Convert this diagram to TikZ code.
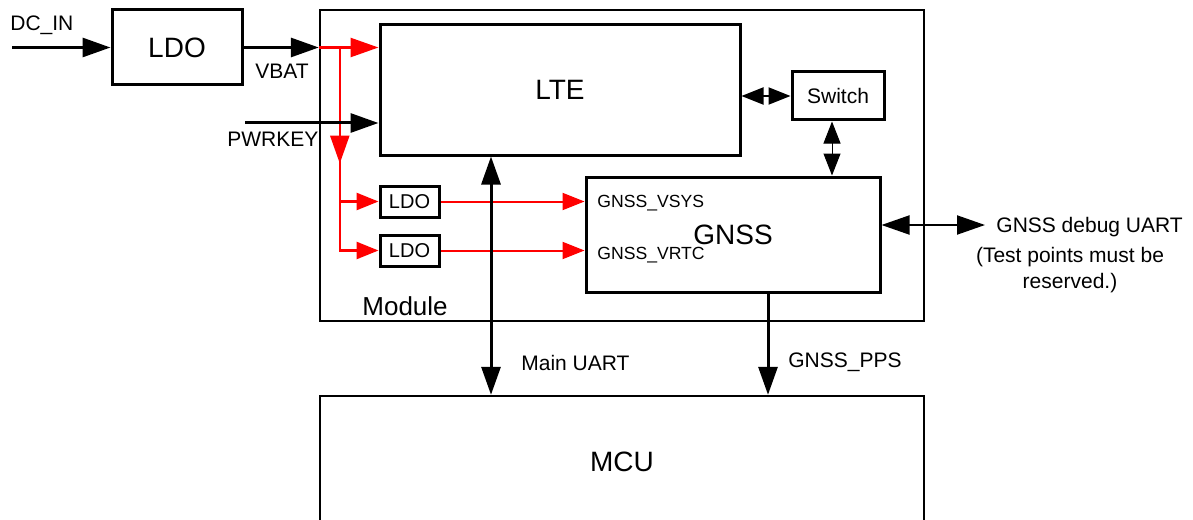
\documentclass[tikz,border=0pt]{standalone}
\usepackage{fontspec}
\setmainfont{Liberation Sans}
\usetikzlibrary{arrows.meta, positioning, calc}

\begin{document}
\begin{tikzpicture}[
  x=0.5pt, y=-0.5pt, >={Triangle[length=14pt,width=9.5pt]},
  box/.style={draw, line width=1.5pt, inner sep=0pt, font=\fontsize{14}{16}\selectfont},
  frame/.style={draw, line width=1.2pt, inner sep=0pt, font=\fontsize{14}{16}\selectfont},
  sbox/.style={draw, line width=1.5pt, inner sep=0pt, minimum width=29.5pt,
               minimum height=15.5pt, font=\fontsize{10}{12}\selectfont},
  sig/.style={line width=1.5pt},
  pwr/.style={red, line width=1.3pt},
  small/.style={>={Triangle[length=11pt,width=8.5pt]}},
  lbl/.style={font=\fontsize{10.5}{13}\selectfont, inner sep=0pt, anchor=base west},
  pin/.style={font=\fontsize{8.8}{11}\selectfont, inner sep=0pt, anchor=base west}
]
\clip (0,0) rectangle (1193,519);

% blocks
\node[box, minimum width=65pt, minimum height=37.5pt] (ldo) at (177,47.5) {LDO};
\node[frame, minimum width=302pt, minimum height=155.5pt] (module) at (622,165.5) {};
\node[box, minimum width=180pt, minimum height=65pt] (lte) at (560,90) {LTE};
\node[box, minimum width=46pt, minimum height=24pt, font=\fontsize{10.5}{12}\selectfont] (switch) at (838,96) {Switch};
\node[box, minimum width=147pt, minimum height=57.5pt] (gnss) at (733,234.5) {GNSS};
\node[sbox] (ldoa) at (409.5,201.5) {LDO};
\node[sbox, below=7.5pt of ldoa] (ldob) {LDO};
\node[frame, minimum width=302pt, minimum height=66pt] (mcu) at (622,462) {MCU};

% labels
\node[lbl] (dcinlbl) at (10,31) {DC\_IN};
\node[lbl] (vbatlbl) at (255,79) {VBAT};
\node[lbl] (pwrkeylbl) at (227,147) {PWRKEY};
\node[lbl, font=\fontsize{13}{15}\selectfont] (modlbl) at (362,315) {Module};
\node[pin] (vsyslbl) at (597,207) {GNSS\_VSYS};
\node[pin] (vrtclbl) at (597,259) {GNSS\_VRTC};
\node[lbl] (uartlbl) at (521,370) {Main UART};
\node[lbl] (ppslbl) at (788,367) {GNSS\_PPS};
\node[lbl] (dbglbl) at (996,232) {GNSS debug UART};
\node[font=\fontsize{10.5}{13}\selectfont, align=center, inner sep=0pt] (notelbl) at (1070,270)
  {(Test points must be\\ reserved.)};

% power
\coordinate (dcin) at (12,47.5);
\coordinate (vbat) at (ldo.east -| module.west);
\coordinate (tap) at ($(vbat)+(21,0)$);
\coordinate (tapmid) at ($(tap)+(0,116)$);
\coordinate (pwrkey) at (245,123);
\draw[sig,->] (dcin) -- (ldo.west);
\draw[sig,->] (ldo.east) -- (vbat);
\draw[pwr,->] (vbat) -- (vbat -| lte.west);
\draw[pwr,->] (tap) -- (tapmid);
\draw[pwr,small,->] (tap) -- (tap |- ldob.west) -- (ldob.west);
\draw[pwr,small,->] (tap |- ldoa.west) -- (ldoa.west);
\draw[pwr,small,line width=1pt,->] (ldoa.east) -- (ldoa.east -| gnss.west);
\draw[pwr,small,line width=1pt,->] (ldob.east) -- (ldob.east -| gnss.west);
\draw[sig,->] (pwrkey) -- (pwrkey -| lte.west);

% interfaces
\coordinate (uarttop) at ([xshift=-34.5pt]lte.south);
\coordinate (ppstop) at ([xshift=17.5pt]gnss.south);
\coordinate (swbot) at ([xshift=-3pt]switch.south);
\coordinate (dbgsrc) at ([yshift=4.75pt]gnss.east);
\coordinate (dbg) at (985,225);
\draw[small,line width=1pt,<->] (switch.west -| lte.east) -- (switch.west);
\draw[small,line width=0.5pt,<->] (swbot) -- (swbot |- gnss.north);
\draw[sig,<->] (uarttop) -- (uarttop |- mcu.north);
\draw[sig,->] (ppstop) -- (ppstop |- mcu.north);
\draw[line width=1pt,<->] (dbgsrc) -- (dbgsrc -| dbg);
\end{tikzpicture}
\end{document}
